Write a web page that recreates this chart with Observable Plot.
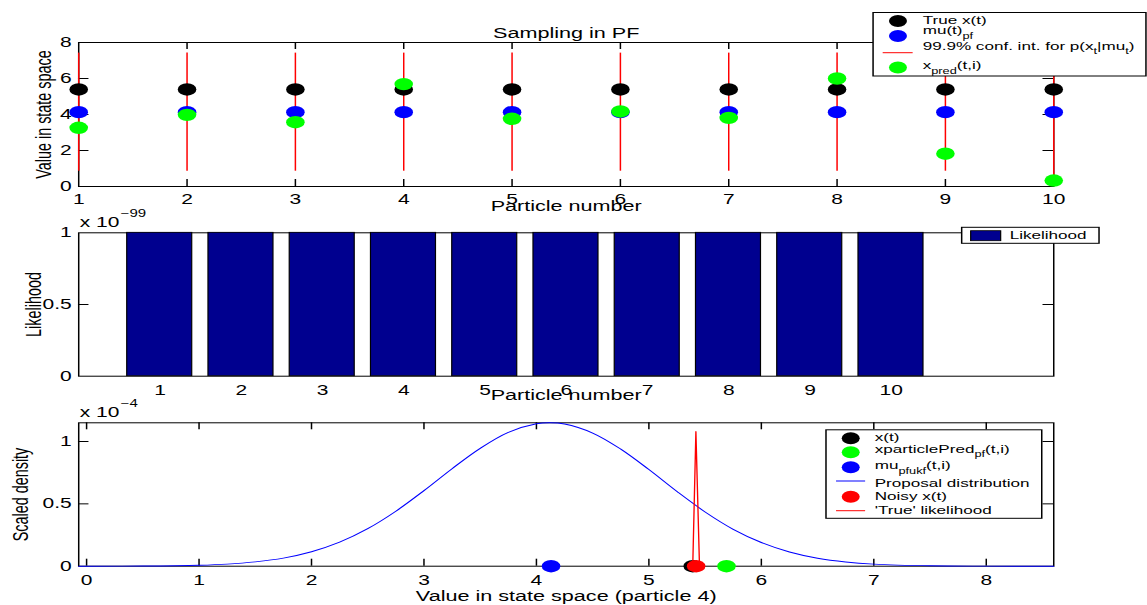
<!DOCTYPE html>
<html>
<head>
<meta charset="utf-8">
<script src="https://cdn.jsdelivr.net/npm/d3@7"></script>
<script src="https://cdn.jsdelivr.net/npm/@observablehq/plot@0.6"></script>
<style>
  html, body { margin: 0; padding: 0; background: #fff; width: 1147px; height: 605px; overflow: hidden; }
  /* The figure is laid out at 765px and stretched to the full window width. */
  #figure { position: absolute; left: 0; top: 0; width: 765px; height: 605px;
            transform-origin: 0 0; transform: scaleX(1.49935); }
  #figure > svg { position: absolute; left: 0; }
</style>
</head>
<body>
<div id="figure"></div>
<script>
// ---------- data ----------
const particles = [1, 2, 3, 4, 5, 6, 7, 8, 9, 10];
const trueX = [5.39, 5.39, 5.39, 5.39, 5.39, 5.39, 5.39, 5.39, 5.39, 5.39];
const muPf = [4.13, 4.13, 4.13, 4.13, 4.13, 4.13, 4.13, 4.13, 4.13, 4.13];
const ciLow = [0.85, 0.85, 0.85, 0.85, 0.85, 0.85, 0.85, 0.85, 0.85, 0.25];
const ciHigh = [7.41, 7.41, 7.41, 7.41, 7.41, 7.41, 7.41, 7.41, 7.41, 7.41];
const xPred = [3.26, 3.98, 3.57, 5.69, 3.76, 4.17, 3.81, 6.0, 1.82, 0.33];

// likelihood of each particle, in units of 10^likelihoodExponent
const likelihoodExponent = -99;
const likelihood = [1, 1, 1, 1, 1, 1, 1, 1, 1, 1];

// particle 4: proposal density and 'true' likelihood, in units of 10^densityExponent
const densityExponent = -4;
const focusParticle = 4;
const proposalX = [-0.07, 0, 0.5, 1, 1.25, 1.5, 1.75, 2, 2.25, 2.5, 2.75, 3, 3.25, 3.5, 3.75, 4, 4.12,
                   4.25, 4.5, 4.75, 5, 5.25, 5.5, 5.75, 6, 6.25, 6.5, 6.75, 7, 7.5, 8, 8.6];
const proposalDensity = [0.0001, 0.0002, 0.0014, 0.008, 0.017, 0.035, 0.065, 0.116, 0.193, 0.301, 0.441,
                         0.606, 0.782, 0.945, 1.073, 1.142, 1.15, 1.14, 1.068, 0.939, 0.775, 0.599, 0.435,
                         0.296, 0.19, 0.114, 0.064, 0.034, 0.017, 0.0034, 0.0005, 0.00002];
const trueLikX = [5.39, 5.418, 5.45];
const trueLikDensity = [0, 1.08, 0];
const noisyX = 5.42;

// ---------- layout ----------
const W = 765;
const font = '"Liberation Sans", Arial, Helvetica, sans-serif';
const fig = document.getElementById("figure");
const frameLeft = 52, frameRight = 702.3;
const tickLen = 7;
const green = "#00ff00", blue = "#0000ff", red = "#ff0000", navy = "#00008f";
const plain = d => `${d}`;

function place(svg, top) {
  svg.style.top = top + "px";
  fig.append(svg);
}
const baseStyle = {fontFamily: font, fontSize: "14px", background: "transparent", overflow: "visible", color: "black"};

// inward tick marks on all four sides of a panel
function boxTicks(xt, yt, frameW, frameH) {
  return [
    Plot.tickX(xt, {insetTop: frameH - tickLen, stroke: "black"}),
    Plot.tickX(xt, {insetBottom: frameH - tickLen, stroke: "black"}),
    Plot.tickY(yt, {insetRight: frameW - tickLen, stroke: "black"}),
    Plot.tickY(yt, {insetLeft: frameW - tickLen, stroke: "black"})
  ];
}

// ---------- panel 1: sampling ----------
const rows = particles.map((p, i) => ({p, trueX: trueX[i], mu: muPf[i], lo: ciLow[i], hi: ciHigh[i], pred: xPred[i], lik: likelihood[i]}));
{
  const H = 212, mt = 42, mb = 26;
  place(Plot.plot({
    width: W, height: H, marginTop: mt, marginBottom: mb, marginLeft: frameLeft, marginRight: W - frameRight,
    style: baseStyle,
    x: {domain: [1, 10], label: null},
    y: {domain: [0, 8], label: null},
    marks: [
      Plot.frame({stroke: "black"}),
      ...boxTicks(particles.slice(1, -1), [2, 4, 6], frameRight - frameLeft, H - mt - mb),
      Plot.axisX({ticks: particles, tickSize: 0, tickPadding: 8, fontSize: 14, label: null, tickFormat: plain}),
      Plot.axisY({ticks: [0, 2, 4, 6, 8], tickSize: 0, tickPadding: 4.7, fontSize: 14, label: null, tickFormat: plain}),
      Plot.ruleX(rows, {x: "p", y1: "lo", y2: "hi", stroke: red, strokeWidth: 1}),
      Plot.dot(rows, {x: "p", y: "trueX", r: 6.2, fill: "black"}),
      Plot.dot(rows, {x: "p", y: "mu", r: 6.2, fill: blue}),
      Plot.dot(rows, {x: "p", y: "pred", r: 6.2, fill: green}),
      Plot.text(["Sampling in PF"], {frameAnchor: "top", dy: -4.3, lineAnchor: "bottom", fontSize: 14.4}),
      Plot.text(["Particle number"], {frameAnchor: "bottom", dy: 24, lineAnchor: "bottom", fontSize: 14.4}),
      Plot.text(["Value in state space"], {frameAnchor: "left", rotate: -90, dx: -18.3, lineAnchor: "bottom", textAnchor: "middle", fontSize: 14.4})
    ]
  }), 0);
}

// ---------- panel 2: likelihood ----------
{
  const H = 190, mt = 20.3, mb = 26.3;
  place(Plot.plot({
    width: W, height: H, marginTop: mt, marginBottom: mb, marginLeft: frameLeft, marginRight: W - frameRight,
    style: baseStyle,
    x: {domain: [0, 12], label: null},
    y: {domain: [0, 1], label: null},
    marks: [
      Plot.frame({stroke: "black"}),
      Plot.tickY([0.5], {insetRight: frameRight - frameLeft - tickLen, stroke: "black"}),
      Plot.tickY([0.5], {insetLeft: frameRight - frameLeft - tickLen, stroke: "black"}),
      Plot.rect(rows, {x1: d => d.p - 0.4, x2: d => d.p + 0.4, y1: 0, y2: "lik", fill: navy, stroke: "black", strokeWidth: 0.8}),
      Plot.axisX({ticks: particles, tickSize: 0, tickPadding: 9.3, fontSize: 14, label: null, tickFormat: plain}),
      Plot.axisY({ticks: [0, 0.5, 1], tickSize: 0, tickPadding: 4.7, fontSize: 14, label: null, tickFormat: plain}),
      Plot.text(["x 10"], {frameAnchor: "top-left", textAnchor: "start", lineAnchor: "bottom", dx: 0.7, dy: -6.3, fontSize: 14}),
      Plot.text([`\u2212${-likelihoodExponent}`], {frameAnchor: "top-left", textAnchor: "start", lineAnchor: "bottom", dx: 28, dy: -16.3, fontSize: 10}),
      Plot.text(["Particle number"], {frameAnchor: "bottom", dy: 23.3, lineAnchor: "bottom", fontSize: 14.4}),
      Plot.text(["Likelihood"], {frameAnchor: "left", rotate: -90, dx: -25.3, lineAnchor: "bottom", textAnchor: "middle", fontSize: 14.4})
    ]
  }), 212);
}

// ---------- panel 3: proposal vs likelihood for one particle ----------
{
  const H = 203, mt = 20.3, mb = 39.3;
  const proposal = proposalX.map((x, i) => ({x, y: proposalDensity[i]}));
  const trueLik = trueLikX.map((x, i) => ({x, y: trueLikDensity[i]}));
  const k = focusParticle - 1;
  place(Plot.plot({
    width: W, height: H, marginTop: mt, marginBottom: mb, marginLeft: frameLeft, marginRight: W - frameRight,
    style: baseStyle,
    x: {domain: [-0.07, 8.6], label: null},
    y: {domain: [0, 1.15], label: null},
    marks: [
      Plot.frame({stroke: "black"}),
      ...boxTicks([0, 1, 2, 3, 4, 5, 6, 7, 8], [0.5, 1], frameRight - frameLeft, H - mt - mb),
      Plot.axisX({ticks: [0, 1, 2, 3, 4, 5, 6, 7, 8], tickSize: 0, tickPadding: 9.3, fontSize: 14, label: null, tickFormat: plain}),
      Plot.axisY({ticks: [0, 0.5, 1], tickSize: 0, tickPadding: 4.7, fontSize: 14, label: null, tickFormat: plain}),
      Plot.line(proposal, {x: "x", y: "y", stroke: blue, strokeWidth: 0.9, curve: "catmull-rom"}),
      Plot.dot([trueX[k]], {x: d => d, y: 0, r: 6.2, fill: "black"}),
      Plot.dot([xPred[k]], {x: d => d, y: 0, r: 6.2, fill: green}),
      Plot.dot([muPf[k]], {x: d => d, y: 0, r: 6.2, fill: blue}),
      Plot.dot([noisyX], {x: d => d, y: 0, r: 6.2, fill: red}),
      Plot.line(trueLik, {x: "x", y: "y", stroke: red, strokeWidth: 0.9}),
      Plot.text(["x 10"], {frameAnchor: "top-left", textAnchor: "start", lineAnchor: "bottom", dx: 0.7, dy: -6.3, fontSize: 14}),
      Plot.text([`\u2212${-densityExponent}`], {frameAnchor: "top-left", textAnchor: "start", lineAnchor: "bottom", dx: 28, dy: -16.3, fontSize: 10}),
      Plot.text([`Value in state space (particle ${focusParticle})`], {frameAnchor: "bottom", dy: 34.3, lineAnchor: "bottom", fontSize: 14.4}),
      Plot.text(["Scaled density"], {frameAnchor: "left", rotate: -90, dx: -33.7, lineAnchor: "bottom", textAnchor: "middle", fontSize: 14.4})
    ]
  }), 402);
}

// ---------- legends ----------
const ov = d3.create("svg").attr("width", W).attr("height", 605)
  .style("top", "0px").style("overflow", "visible")
  .attr("font-family", font);

function richText(g, x, y, parts, size) {
  const t = g.append("text").attr("x", x).attr("y", y).attr("font-size", size).attr("fill", "black");
  let shifted = false;
  for (const [s, kind] of parts) {
    const sp = t.append("tspan").text(s);
    if (kind === "sub" && !shifted) { sp.attr("dy", 4.5).attr("font-size", 8.5); shifted = true; }
    else if (kind === "sub") { sp.attr("font-size", 8.5); }
    else if (shifted) { sp.attr("dy", -4.5); shifted = false; }
  }
}

function legend(box, items, markX, lineX, textX) {
  const g = ov.append("g");
  g.append("rect").attr("x", box.x).attr("y", box.y).attr("width", box.w).attr("height", box.h)
    .attr("fill", "white").attr("stroke", "black").attr("stroke-width", 1);
  for (const it of items) {
    if (it.kind === "dot") g.append("circle").attr("cx", markX).attr("cy", it.my).attr("r", 6).attr("fill", it.color);
    else if (it.kind === "line") g.append("line").attr("x1", lineX[0]).attr("x2", lineX[1]).attr("y1", it.my).attr("y2", it.my).attr("stroke", it.color).attr("stroke-width", 1);
    richText(g, textX, it.ty, it.parts, 11.4);
  }
}

legend({x: 582.3, y: 12.5, w: 182, h: 63.5}, [
  {kind: "dot", color: "black", my: 21, ty: 23.6, parts: [["True x(t)"]]},
  {kind: "dot", color: blue, my: 36, ty: 34.3, parts: [["mu(t)"], ["pf", "sub"]]},
  {kind: "line", color: red, my: 52.7, ty: 50, parts: [["99.9% conf. int. for p(x"], ["t", "sub"], ["|mu"], ["t", "sub"], [")"]]},
  {kind: "dot", color: green, my: 67.5, ty: 69.3, parts: [["x"], ["pred", "sub"], ["(t,i)"]]}
], 598.9, [588.7, 608.7], 615.4);

legend({x: 550.9, y: 429.8, w: 143.9, h: 88.5}, [
  {kind: "dot", color: "black", my: 438.3, ty: 441, parts: [["x(t)"]]},
  {kind: "dot", color: green, my: 452.3, ty: 452.6, parts: [["xparticlePred"], ["pf", "sub"], ["(t,i)"]]},
  {kind: "dot", color: blue, my: 467.3, ty: 469.3, parts: [["mu"], ["pfukf", "sub"], ["(t,i)"]]},
  {kind: "line", color: blue, my: 481, ty: 487, parts: [["Proposal distribution"]]},
  {kind: "dot", color: red, my: 496.7, ty: 500.3, parts: [["Noisy x(t)"]]},
  {kind: "line", color: red, my: 510.7, ty: 514, parts: [["'True' likelihood"]]}
], 567.4, [557.6, 577], 583.4);

{
  const g = ov.append("g");
  g.append("rect").attr("x", 641.4).attr("y", 227.3).attr("width", 91.6).attr("height", 16)
    .attr("fill", "white").attr("stroke", "black").attr("stroke-width", 1);
  g.append("rect").attr("x", 647.4).attr("y", 230.7).attr("width", 20).attr("height", 10)
    .attr("fill", navy).attr("stroke", "black").attr("stroke-width", 0.8);
  richText(g, 673.4, 239.3, [["Likelihood"]], 11.4);
}
fig.append(ov.node());
</script>
</body>
</html>
